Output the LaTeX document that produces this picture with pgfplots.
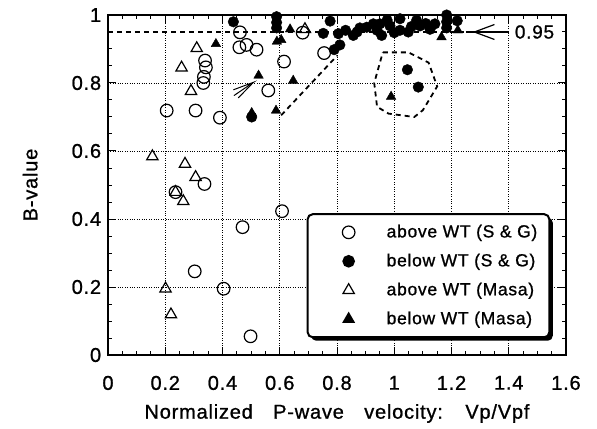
\documentclass[border=0pt]{standalone}
\usepackage{pgfplots}
\pgfplotsset{compat=1.18}
\usepackage{fontspec}
\setmainfont{Liberation Sans}[LetterSpace=4, FakeBold=1]
\usetikzlibrary{shadows}
\begin{document}
\fontsize{17}{20}\selectfont
\begin{tikzpicture}
\useasboundingbox (-108pt,-73.5pt) rectangle (489pt,355pt);
\begin{axis}[
 scale only axis, width=458pt, height=340pt,
 xmin=0, xmax=1.6, ymin=0, ymax=1,
 xtick={0,0.2,0.4,0.6,0.8,1,1.2,1.4,1.6},
 ytick={0,0.2,0.4,0.6,0.8,1},
 minor x tick num=3, minor y tick num=3,
 tick align=inside,
 grid=major,
 major grid style={dotted, line width=0.8pt, black},
 axis line style={line width=1.6pt},
 major tick length=8pt, minor tick length=4pt,
 every tick/.style={black, line width=1pt},
 /pgf/number format/assume math mode=true,
 ticklabel style={font=\fontsize{20}{24}\selectfont},
 xticklabel style={yshift=-15pt},
 yticklabel style={xshift=-1pt},
 xlabel={Normalized\hspace{0.7em} P-wave\hspace{0.7em} velocity:\hspace{0.7em} Vp/Vpf},
 ylabel={B-value},
 xlabel style={at={(axis description cs:0.5,-0.172)}, anchor=center, font=\fontsize{20}{24}\selectfont},
 ylabel style={at={(axis description cs:-0.17,0.5)}, anchor=center, font=\fontsize{20}{24}\selectfont},
 legend cell align=left,
 legend image code/.code={\draw[#1] plot coordinates {(0pt,0pt)}; \path (-30pt,0pt) (35pt,0pt);},
 legend style={at={(axis cs:0.694,0.417)}, anchor=north west, draw=black, line width=2pt,
   rounded corners=5pt, fill=white,
   drop shadow={shadow xshift=3.5pt, shadow yshift=-3.5pt, fill=black, opacity=1},
   inner xsep=10pt, inner ysep=8pt, row sep=8.7pt,
   nodes={inner ysep=2.5pt},
   font=\fontsize{17.5}{20}\selectfont},
]
% annotations
\draw[line width=1.8pt, dash pattern=on 5pt off 4pt] (axis cs:0,0.95) -- (axis cs:1.25,0.95);
\draw[line width=1.2pt] (axis cs:1.25,0.95) -- (axis cs:1.40,0.95);
\draw[line width=1.2pt] (axis cs:1.35,0.972) -- (axis cs:1.28,0.95) -- (axis cs:1.35,0.928);
\node[font=\fontsize{19}{22}\selectfont] at (axis cs:1.49,0.95) {0.95};
\draw[line width=1.8pt, dash pattern=on 5pt off 4pt] (axis cs:0.605,0.705) -- (axis cs:0.80,0.88);
\draw[line width=1.8pt, dash pattern=on 5pt off 4pt] (axis cs:0.96,0.89) -- (axis cs:1.05,0.89) -- (axis cs:1.12,0.86) -- (axis cs:1.15,0.79) -- (axis cs:1.10,0.72) -- (axis cs:1.07,0.70) -- (axis cs:0.98,0.71) -- (axis cs:0.94,0.73) -- (axis cs:0.93,0.80) -- cycle;
\draw[line width=1pt] (axis cs:0.438,0.780) -- (axis cs:0.508,0.802) -- (axis cs:0.440,0.763);
\draw[line width=1pt] (axis cs:0.508,0.802) -- (axis cs:0.455,0.756);
% data
\addplot[only marks, mark=o, mark size=6.3pt, line width=1.2pt, black] coordinates {
(0.205,0.719) (0.306,0.719) (0.391,0.698) (0.339,0.866) (0.342,0.846) (0.335,0.818) (0.333,0.800)
(0.461,0.949) (0.459,0.905) (0.484,0.912) (0.519,0.898) (0.615,0.863) (0.560,0.778) (0.680,0.948)
(0.755,0.888) (0.236,0.479) (0.337,0.503) (0.608,0.423) (0.470,0.376) (0.303,0.246) (0.404,0.195)
(0.498,0.055)};
\addlegendentry{above WT (S \& G)}
\addplot[only marks, mark=*, mark size=5.3pt, black] coordinates {
(0.438,0.980) (0.502,0.700) (0.589,0.995) (0.589,0.978) (0.589,0.962) (0.776,0.982) (0.752,0.946)
(0.805,0.945) (0.810,0.912) (0.790,0.898) (0.830,0.955) (0.857,0.940) (0.870,0.950) (0.880,0.962)
(0.904,0.964) (0.927,0.974) (0.940,0.955) (0.950,0.974) (0.956,0.940) (0.975,0.985) (0.985,0.968)
(1.000,0.948) (1.020,0.955) (1.020,0.989) (1.049,0.950) (1.060,0.966) (1.078,0.984) (1.090,0.968)
(1.110,0.975) (1.125,0.958) (1.142,0.974) (1.183,1.000) (1.183,0.980) (1.183,0.962) (1.220,0.983)
(1.046,0.839) (1.084,0.788)};
\addlegendentry{below WT (S \& G)}
\addplot[only marks, mark=triangle, mark size=6.5pt, line width=1.2pt, black] coordinates {
(0.155,0.584) (0.269,0.562) (0.306,0.523) (0.236,0.479) (0.263,0.452) (0.201,0.195) (0.220,0.119)
(0.310,0.902) (0.257,0.845) (0.290,0.776) (0.688,0.958)};
\addlegendentry{above WT (Masa)}
\addplot[only marks, mark=triangle*, mark size=5.5pt, black] coordinates {
(0.377,0.915) (0.502,0.712) (0.587,0.719) (0.526,0.822) (0.647,0.807) (0.590,0.922) (0.605,0.927)
(0.636,0.958) (1.165,0.935) (1.222,0.955) (0.989,0.760)};
\addlegendentry{below WT (Masa)}
\end{axis}
\end{tikzpicture}
\end{document}
